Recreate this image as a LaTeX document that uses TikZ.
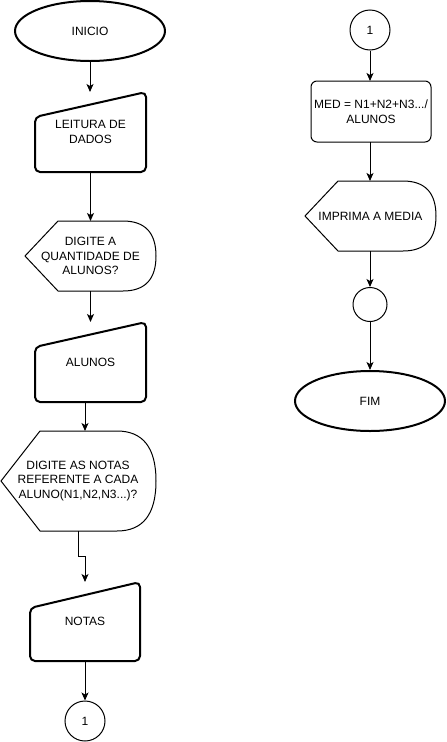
\documentclass[tikz,border=0pt]{standalone}
\usepackage{fontspec}
\setmainfont{Liberation Sans}
\usetikzlibrary{shapes.geometric,arrows.meta,calc}
\tikzset{
  box/.style={rectangle, inner sep=0pt, outer sep=0pt, align=center, font=\fontsize{12}{14.5}\selectfont},
  thickline/.style={line width=2pt, line join=round},
  thinline/.style={line width=1pt},
  term/.style={ellipse, draw, thickline, minimum width=150pt, minimum height=60pt, inner sep=0pt, font=\fontsize{12}{14.5}\selectfont},
  conn/.style={circle, draw, thinline, inner sep=0pt, font=\fontsize{12}{14.5}\selectfont},
  arr/.style={thinline, -{Stealth[length=8pt,width=7pt,inset=2pt]}},
}
\begin{document}
\begin{tikzpicture}[x=1pt,y=-1pt]
\useasboundingbox (0,0) rectangle (447,742);
% left column
\node[term] (inicio) at (90,31) {INICIO};

\draw[thickline, rounded corners=5pt] (35,117) -- (146,92) -- (146,172) -- (35,172) -- cycle;
\node[box, minimum width=111pt, minimum height=80pt] (leit) at (90.5,132) {LEITURA DE\\DADOS};

\draw[thinline] (25,256) -- (58,221) -- (123,221) .. controls (145,221) and (156,232.7) .. (156,256)
  .. controls (156,279.3) and (145,291) .. (123,291) -- (58,291) -- cycle;
\node[box, minimum width=131pt, minimum height=70pt] (disp1) at (90.5,256) {DIGITE A\\QUANTIDADE DE\\ALUNOS?};

\draw[thickline, rounded corners=5pt] (35,347) -- (146,322) -- (146,402) -- (35,402) -- cycle;
\node[box, minimum width=111pt, minimum height=80pt] (alunos) at (90.5,362) {ALUNOS};

\draw[thinline] (1,481) -- (40,431) -- (117,431) .. controls (143,431) and (156,447.7) .. (156,481)
  .. controls (156,514.3) and (143,531) .. (117,531) -- (40,531) -- cycle;
\node[box, minimum width=155pt, minimum height=100pt] (disp2) at (78,481) {DIGITE AS NOTAS\\REFERENTE A CADA\\ALUNO(N1,N2,N3...)?};

\draw[thickline, rounded corners=5pt] (30,608) -- (140,582) -- (140,661) -- (30,661) -- cycle;
\node[box, minimum width=110pt, minimum height=79pt] (notas) at (85,621.5) {NOTAS};

\node[conn, minimum size=40pt] (c1) at (85,721) {1};

% right column
\node[conn, minimum size=40pt] (c2) at (370,30) {1};
\node[box, draw, thinline, rounded corners=6pt, minimum width=120pt, minimum height=61pt] (med) at (371,111.5) {MED = N1+N2+N3.../\\ALUNOS};

\draw[thinline] (305,216) -- (338,181) -- (403,181) .. controls (425,181) and (436,192.7) .. (436,216)
  .. controls (436,239.3) and (425,251) .. (403,251) -- (338,251) -- cycle;
\node[box, minimum width=131pt, minimum height=70pt] (disp3) at (370.5,216) {IMPRIMA A MEDIA};

\node[conn, minimum size=34pt] (c3) at (370,304.5) {};
\node[term] (fim) at (370,401) {FIM};

% connectors
\draw[arr] (inicio.south) -- (inicio.south |- leit.north);
\draw[arr] (leit.south) -- (leit.south |- disp1.north);
\draw[arr] (disp1.south) -- (disp1.south |- alunos.north);
\draw[arr] (alunos.south -| notas.north) -- (disp2.north -| notas.north);
\draw[arr] (disp2.south) -- ++(0,25) -| (notas.north);
\draw[arr] (notas.south) -- (c1.north);
\draw[arr] (c2.south) -- (c2.south |- med.north);
\draw[arr] (med.south -| c2.south) -- (disp3.north -| c2.south);
\draw[arr] (disp3.south -| c3.north) -- (c3.north);
\draw[arr] (c3.south) -- (fim.north);
\end{tikzpicture}
\end{document}
